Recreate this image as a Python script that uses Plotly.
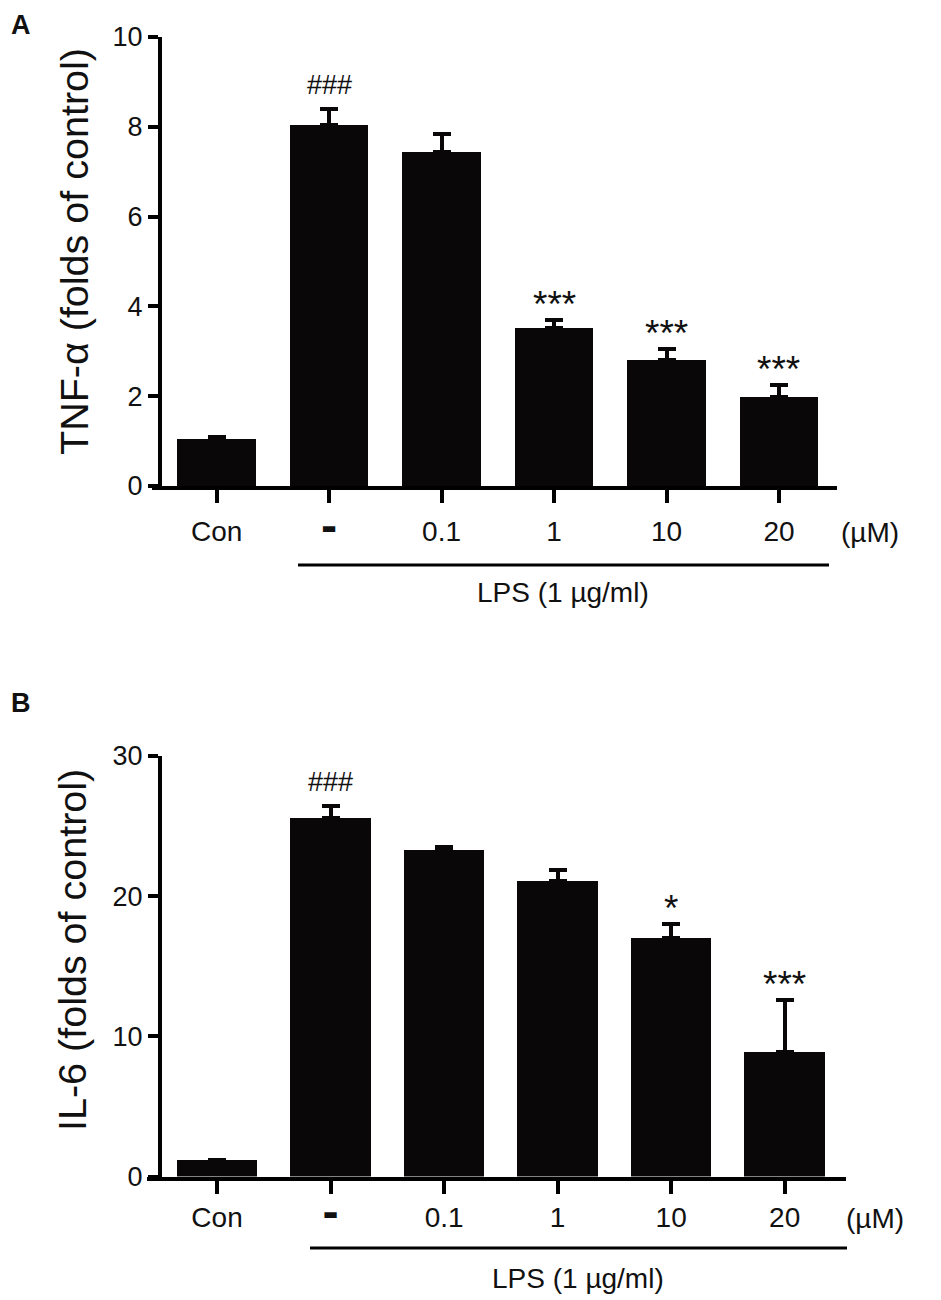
import plotly.graph_objects as go

categories = ["Con", "<span style='font-family:DejaVu Sans;font-size:40px'><b>-</b></span>",
              "0.1", "1", "10", "20"]

tnf_mean = [1.04, 8.03, 7.45, 3.51, 2.81, 1.98]
tnf_err = [0.06, 0.37, 0.39, 0.18, 0.24, 0.28]
tnf_sig = ["", "###", "", "***", "***", "***"]

il6_mean = [1.15, 25.6, 23.3, 21.05, 17.0, 8.88]
il6_err = [0.0, 0.8, 0.2, 0.85, 1.05, 3.72]
il6_sig = ["", "###", "", "", "*", "***"]

tnf_ticks = [0, 2, 4, 6, 8, 10]
il6_ticks = [0, 10, 20, 30]

FONT = "Liberation Sans, Arial, sans-serif"
OFF = 8  # page body margin
W, H = 941 - OFF, 1300 - OFF
INK = "#0a0708"


def px_x(v):
    return (v - OFF) / W


def px_y(v):
    return 1 - (v - OFF) / H


xs = list(range(len(categories)))

fig = go.Figure()

fig.add_trace(go.Bar(
    x=xs, y=tnf_mean, width=0.70, marker=dict(color=INK, line=dict(width=0)),
    error_y=dict(type="data", symmetric=False, array=tnf_err, arrayminus=[0] * 6,
                 color=INK, thickness=4, width=9),
    xaxis="x", yaxis="y", showlegend=False))

fig.add_trace(go.Bar(
    x=xs, y=il6_mean, width=0.71, marker=dict(color=INK, line=dict(width=0)),
    error_y=dict(type="data", symmetric=False, array=il6_err, arrayminus=[0] * 6,
                 color=INK, thickness=4, width=9),
    xaxis="x2", yaxis="y2", showlegend=False))

common_x = dict(tickmode="array", tickvals=xs, ticktext=categories,
                showline=True, linewidth=4, linecolor="black",
                ticks="outside", ticklen=13, tickwidth=3.5, tickcolor="black",
                tickfont=dict(size=28, family=FONT, color="#111"),
                showgrid=False, zeroline=False, automargin=False)
common_y = dict(showline=True, linewidth=4, linecolor="black",
                ticks="outside", ticklen=10, tickwidth=3.5, tickcolor="black",
                tickfont=dict(size=27, family=FONT, color="#111"),
                showgrid=False, zeroline=False, anchor="free", automargin=False)

fig.update_layout(
    template="none",
    width=W, height=H,
    autosize=False,
    margin=dict(l=0, r=0, t=0, b=0, pad=0),
    paper_bgcolor="white", plot_bgcolor="white",
    bargap=0,
    xaxis=dict(domain=[px_x(152), px_x(837)], range=[-0.575, 5.516], anchor="y",
               ticklabelstandoff=4, **common_x),
    yaxis=dict(domain=[px_y(486), px_y(37)], range=[0, 10], tickvals=tnf_ticks,
               position=px_x(160), **common_y),
    xaxis2=dict(domain=[px_x(147), px_x(846)], range=[-0.617, 5.54], anchor="y2", **common_x),
    yaxis2=dict(domain=[px_y(1176.5), px_y(756)], range=[0, 30], tickvals=il6_ticks,
                position=px_x(160), **common_y),
)


def txt(x, y, s, size, **kw):
    d = dict(x=px_x(x), y=px_y(y), xref="paper", yref="paper", text=s,
             showarrow=False, xanchor="center", yanchor="middle",
             font=dict(size=size, family=FONT, color="#111"))
    d.update(kw)
    return d


def sig_ann(i, s, mean, err, xr, yr):
    is_hash = s.startswith("#")
    return dict(x=xs[i], y=mean[i] + err[i], xref=xr, yref=yr, text=s,
                showarrow=False, xanchor="center", yanchor="bottom",
                yshift=7 if is_hash else -7,
                font=dict(size=27 if is_hash else 37, family=FONT, color="#111"))


ann = []
for i, s in enumerate(tnf_sig):
    if s:
        ann.append(sig_ann(i, s, tnf_mean, tnf_err, "x", "y"))
for i, s in enumerate(il6_sig):
    if s:
        ann.append(sig_ann(i, s, il6_mean, il6_err, "x2", "y2"))

# y titles
ann.append(txt(74, 252, "TNF-α (folds of control)", 39.5, textangle=-90))
ann.append(txt(72, 950, "IL-6 (folds of control)", 39.5, textangle=-90))

# units
ann.append(txt(870, 532, "(µM)", 28))
ann.append(txt(875, 1218, "(µM)", 28))

# LPS labels
ann.append(txt(563, 592, "LPS (1 µg/ml)", 28))
ann.append(txt(578, 1278, "LPS (1 µg/ml)", 28))

# panel letters (kept inside the figure's top-left edge)
ann.append(txt(10, 9, "<b>A</b>", 27, xanchor="left", yanchor="top", borderpad=0))
ann.append(txt(10, 703, "<b>B</b>", 27, xanchor="left", borderpad=0))

fig.update_layout(annotations=ann)

# LPS bracket lines
fig.add_shape(type="line", xref="paper", yref="paper",
              x0=px_x(298), x1=px_x(829), y0=px_y(565), y1=px_y(565),
              line=dict(color="black", width=3))
fig.add_shape(type="line", xref="paper", yref="paper",
              x0=px_x(310), x1=px_x(847), y0=px_y(1248), y1=px_y(1248),
              line=dict(color="black", width=3))

fig.write_html("out.html")
